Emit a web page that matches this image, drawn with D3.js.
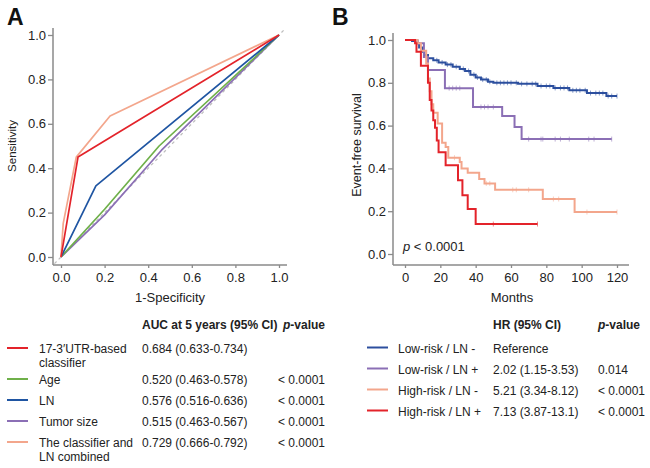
<!DOCTYPE html>
<html>
<head>
<meta charset="utf-8">
<script src="https://cdn.jsdelivr.net/npm/d3@7"></script>
<style>
  body { margin: 0; background: #fff; }
  svg { font-family: Arial, "Liberation Sans", sans-serif; }
  .axis path, .axis line { stroke: #8a8a8a; stroke-width: 1.3; }
  .axis text { fill: #222; font-size: 13px; font-family: Arial, "Liberation Sans", sans-serif; }
  .tbl { font-size: 12px; fill: #222; }
  .hdr { font-size: 12px; font-weight: bold; fill: #222; }
</style>
</head>
<body>
<svg id="chart" width="650" height="468"></svg>
<script>
// ---- panel A: ROC ----
var rocTicks = [0, 0.2, 0.4, 0.6, 0.8, 1.0];
var diagonalRoc = [[-0.03, -0.03], [1.03, 1.03]];
var tumorRoc = [[0, 0], [0.2, 0.19], [0.46, 0.48], [1, 1]];
var ageRoc = [[0, 0], [0.2, 0.215], [0.45, 0.5], [1, 1]];
var lnRoc = [[0, 0], [0.16, 0.32], [1, 1]];
var combinedRoc = [[0, 0], [0.01, 0.15], [0.07, 0.45], [0.225, 0.635], [1, 1]];
var classifierRoc = [[0, 0], [0.078, 0.45], [1, 1]];

var aucLabels = [["17-3\u2032UTR-based", "classifier"], ["Age"], ["LN"], ["Tumor size"], ["The classifier and", "LN combined"]];
var aucValues = ["0.684 (0.633-0.734)", "0.520 (0.463-0.578)", "0.576 (0.516-0.636)", "0.515 (0.463-0.567)", "0.729 (0.666-0.792)"];
var aucPvalues = ["", "< 0.0001", "< 0.0001", "< 0.0001", "< 0.0001"];

// ---- panel B: Kaplan-Meier ----
var monthTicks = [0, 20, 40, 60, 80, 100, 120];
var survTicks = [0, 0.2, 0.4, 0.6, 0.8, 1.0];

var lowNegSteps = [[0, 1], [4, 0.995], [7, 0.985], [8, 0.965], [10, 0.945], [11, 0.93], [13, 0.915], [16, 0.905],
  [19, 0.895], [23, 0.885], [27, 0.875], [31, 0.865], [34, 0.855], [37, 0.838], [40, 0.825], [43, 0.815],
  [47, 0.805], [50, 0.8], [64, 0.795], [75, 0.785], [84, 0.776], [93, 0.765], [103, 0.752], [114, 0.738], [120, 0.738]];
var lowNegCensor = [18, 21, 24, 26, 29, 33, 36, 39, 41, 44, 46, 48, 52, 54, 56, 58, 60, 63, 66, 69, 72, 74, 77, 80,
  82, 85, 88, 90, 92, 95, 97, 99, 102, 105, 108, 110, 112, 115, 117, 120];

var lowPosSteps = [[0, 1], [7, 0.985], [10.7, 0.92], [13, 0.86], [22.6, 0.775], [38.5, 0.687], [55, 0.645],
  [62, 0.593], [66, 0.537], [117, 0.537]];
var lowPosCensor = [25, 27, 29, 31, 43, 45, 47, 50, 70, 77, 78, 85, 88, 93, 104, 107, 117];

var highNegSteps = [[0, 1], [7, 0.985], [9, 0.95], [12, 0.89], [13, 0.82], [14, 0.76], [15, 0.7], [16, 0.66],
  [18.5, 0.61], [21, 0.52], [23, 0.5], [24.5, 0.45], [31, 0.43], [32, 0.4], [35.5, 0.38], [42, 0.35], [45, 0.33],
  [51, 0.3], [78, 0.257], [96, 0.196], [120, 0.196]];
var highNegCensor = [28, 46, 48, 61, 63, 70, 84, 87, 103, 120];

var highPosSteps = [[0, 1], [5.7, 0.985], [6.5, 0.945], [9, 0.88], [13, 0.8], [14, 0.72], [15, 0.67], [16, 0.625],
  [17, 0.59], [18, 0.53], [19, 0.475], [23, 0.415], [30, 0.345], [32.5, 0.275], [35.5, 0.21], [40, 0.14], [75, 0.14]];
var highPosCensor = [50, 75];

var groupNames = ["Low-risk / LN -", "Low-risk / LN +", "High-risk / LN -", "High-risk / LN +"];
var hrValues = ["Reference", "2.02 (1.15-3.53)", "5.21 (3.34-8.12)", "7.13 (3.87-13.1)"];
var hrPvalues = ["", "0.014", "< 0.0001", "< 0.0001"];

// colours
var cRed = "#e3232a", cGreen = "#6fb04a", cBlue = "#1f55a2", cPurple = "#8b6fb5", cSalmon = "#f3a68c";
var cNavy = "#2c4f9e";

var svg = d3.select("#chart");
svg.append("rect").attr("width", 650).attr("height", 468).attr("fill", "#fff");

function drawAxes(x, y, xTicks, yTicks, xFmt, yFmt, xPad, yPad) {
  var xr = x.range(), yr = y.range();
  svg.append("g").attr("class", "axis")
    .attr("transform", "translate(0," + (yr[0] + yPad) + ")")
    .call(d3.axisBottom(x).tickValues(xTicks).tickFormat(xFmt).tickSizeOuter(0).tickSize(3).tickPadding(5))
    .select(".domain").remove();
  svg.append("g").attr("class", "axis")
    .attr("transform", "translate(" + (xr[0] - xPad) + ",0)")
    .call(d3.axisLeft(y).tickValues(yTicks).tickFormat(yFmt).tickSizeOuter(0).tickSize(5).tickPadding(2))
    .select(".domain").remove();
  svg.append("line").attr("x1", xr[0] - xPad).attr("x2", xr[1] + xPad)
    .attr("y1", yr[0] + yPad).attr("y2", yr[0] + yPad)
    .attr("stroke", "#8a8a8a").attr("stroke-width", 1.5);
  svg.append("line").attr("x1", xr[0] - xPad).attr("x2", xr[0] - xPad)
    .attr("y1", yr[0] + yPad).attr("y2", yr[1] - 7)
    .attr("stroke", "#8a8a8a").attr("stroke-width", 1.5);
}

// ===== Panel A =====
var xA = d3.scaleLinear().domain([0, 1]).range([61, 279]);
var yA = d3.scaleLinear().domain([0, 1]).range([257, 35]);
drawAxes(xA, yA, rocTicks, rocTicks, d3.format(".1f"), d3.format(".1f"), 8, 8);

var rocLine = d3.line().x(function(d) { return xA(d[0]); }).y(function(d) { return yA(d[1]); });

svg.append("path").datum(diagonalRoc).attr("d", rocLine)
  .attr("fill", "none").attr("stroke", "#bdbdbd").attr("stroke-width", 1.2).attr("stroke-dasharray", "3,3");

[[tumorRoc, cPurple], [ageRoc, cGreen], [lnRoc, cBlue], [combinedRoc, cSalmon], [classifierRoc, cRed]]
  .forEach(function(s) {
    svg.append("path").datum(s[0]).attr("d", rocLine)
      .attr("fill", "none").attr("stroke", s[1]).attr("stroke-width", 1.7)
      .attr("stroke-linejoin", "round");
  });

svg.append("text").attr("x", 7).attr("y", 25).attr("font-size", 23).attr("font-weight", "bold")
  .attr("fill", "#111").text("A");
svg.append("text").attr("transform", "translate(16,146) rotate(-90)").attr("text-anchor", "middle")
  .attr("font-size", 11.5).attr("fill", "#222").text("Sensitivity");
svg.append("text").attr("x", 170).attr("y", 302).attr("text-anchor", "middle")
  .attr("font-size", 13).attr("fill", "#222").text("1-Specificity");

// table A
svg.append("text").attr("class", "hdr").attr("x", 142).attr("y", 329).text("AUC at 5 years (95% CI)");
var pvA = svg.append("text").attr("class", "hdr").attr("x", 325).attr("y", 329).attr("text-anchor", "end");
pvA.append("tspan").attr("font-style", "italic").text("p");
pvA.append("tspan").text("-value");

var rocColors = [cRed, cGreen, cBlue, cPurple, cSalmon];
var extra = 0;
aucLabels.forEach(function(lab, i) {
  var ry = 348 + 21 * i + extra;
  svg.append("line").attr("x1", 7).attr("x2", 28).attr("y1", ry).attr("y2", ry)
    .attr("stroke", rocColors[i]).attr("stroke-width", 2);
  lab.forEach(function(t, j) {
    svg.append("text").attr("class", "tbl").attr("x", 39).attr("y", ry + 5 + j * 13.5).text(t);
  });
  svg.append("text").attr("class", "tbl").attr("x", 142).attr("y", ry + 5).text(aucValues[i]);
  svg.append("text").attr("class", "tbl").attr("x", 325).attr("y", ry + 5)
    .attr("text-anchor", "end").text(aucPvalues[i]);
  if (lab.length > 1) extra += 10;
});

// ===== Panel B =====
var xB = d3.scaleLinear().domain([0, 120]).range([405, 617]);
var yB = d3.scaleLinear().domain([0, 1]).range([254, 40]);
drawAxes(xB, yB, monthTicks, survTicks, d3.format("d"), d3.format(".1f"), 12, 11);

var kmLine = d3.line().curve(d3.curveStepAfter)
  .x(function(d) { return xB(d[0]); }).y(function(d) { return yB(d[1]); });

function survAt(steps, m) {
  var s = steps[0][1];
  steps.forEach(function(d) { if (d[0] <= m) s = d[1]; });
  return s;
}

[[lowNegSteps, lowNegCensor, cNavy], [lowPosSteps, lowPosCensor, cPurple],
 [highNegSteps, highNegCensor, cSalmon], [highPosSteps, highPosCensor, cRed]].forEach(function(s) {
  svg.append("path").datum(s[0]).attr("d", kmLine)
    .attr("fill", "none").attr("stroke", s[2]).attr("stroke-width", 2);
  svg.append("g").selectAll("line").data(s[1]).enter().append("line")
    .attr("x1", function(m) { return xB(m); }).attr("x2", function(m) { return xB(m); })
    .attr("y1", function(m) { return yB(survAt(s[0], m)) - 2.5; })
    .attr("y2", function(m) { return yB(survAt(s[0], m)) + 2.5; })
    .attr("stroke", s[2]).attr("stroke-opacity", 0.55).attr("stroke-width", 1);
});

svg.append("text").attr("x", 332).attr("y", 25).attr("font-size", 23).attr("font-weight", "bold")
  .attr("fill", "#111").text("B");
svg.append("text").attr("transform", "translate(361,145) rotate(-90)").attr("text-anchor", "middle")
  .attr("font-size", 12.5).attr("fill", "#222").text("Event-free survival");
svg.append("text").attr("x", 512).attr("y", 302).attr("text-anchor", "middle")
  .attr("font-size", 13).attr("fill", "#222").text("Months");
var pt = svg.append("text").attr("x", 403).attr("y", 251).attr("font-size", 13).attr("fill", "#222");
pt.append("tspan").attr("font-style", "italic").text("p");
pt.append("tspan").text(" < 0.0001");

// table B
svg.append("text").attr("class", "hdr").attr("x", 493).attr("y", 329).text("HR (95% CI)");
var pvB = svg.append("text").attr("class", "hdr").attr("x", 598).attr("y", 329);
pvB.append("tspan").attr("font-style", "italic").text("p");
pvB.append("tspan").text("-value");

var kmColors = [cNavy, cPurple, cSalmon, cRed];
groupNames.forEach(function(g, i) {
  var ry = 347.5 + 21 * i;
  svg.append("line").attr("x1", 367).attr("x2", 388).attr("y1", ry).attr("y2", ry)
    .attr("stroke", kmColors[i]).attr("stroke-width", 2);
  svg.append("text").attr("class", "tbl").attr("x", 398).attr("y", ry + 5).text(g);
  svg.append("text").attr("class", "tbl").attr("x", 493).attr("y", ry + 5).text(hrValues[i]);
  svg.append("text").attr("class", "tbl").attr("x", 598).attr("y", ry + 5).text(hrPvalues[i]);
});
</script>
</body>
</html>
